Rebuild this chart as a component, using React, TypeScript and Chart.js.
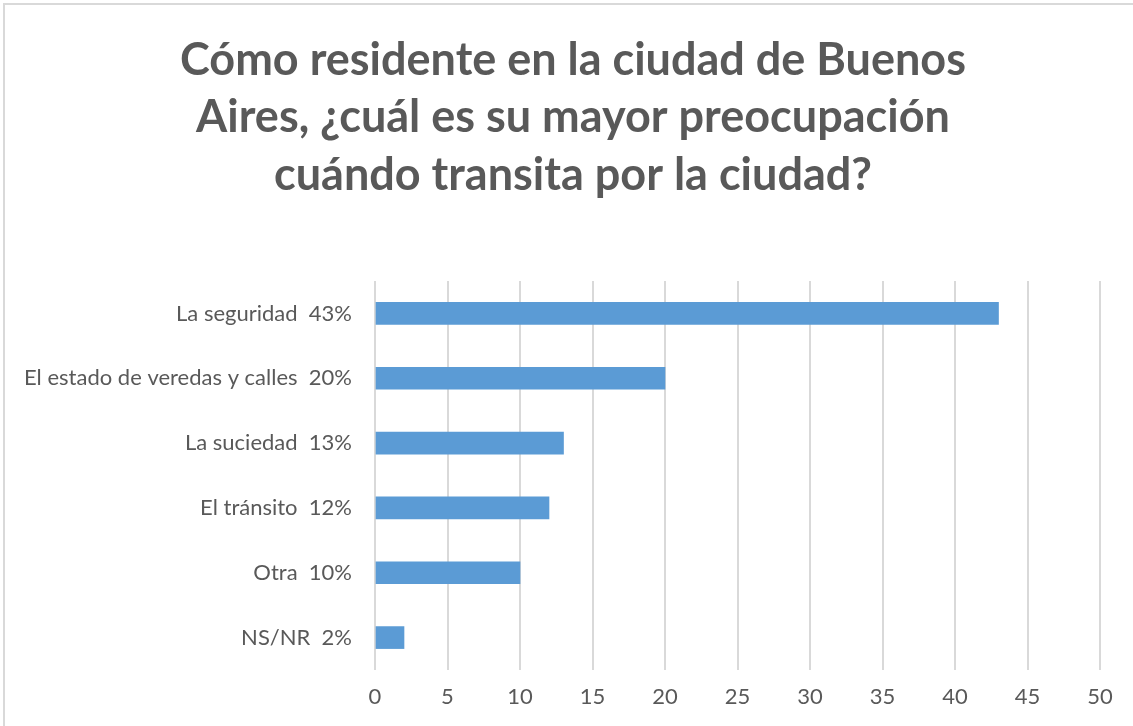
import React, { useEffect, useRef } from "react";
import { Chart, registerables } from "chart.js";

Chart.register(...registerables);

const categories = [
  "La seguridad  43%",
  "El estado de veredas y calles  20%",
  "La suciedad  13%",
  "El tránsito  12%",
  "Otra  10%",
  "NS/NR  2%",
];
const values = [43, 20, 13, 12, 10, 2];
const titleLines = [
  "Cómo residente en la ciudad de Buenos",
  "Aires, ¿cuál es su mayor preocupación",
  "cuándo transita por la ciudad?",
];
const xMin = 0;
const xMax = 50;
const xStep = 5;

const FONT = "Lato, 'Open Sans', sans-serif";
const GRAY = "#595959";

const titlePlugin = {
  id: "centeredTitle",
  afterDraw(chart: any) {
    const ctx = chart.ctx;
    ctx.save();
    ctx.fillStyle = GRAY;
    ctx.font = `bold 45px ${FONT}`;
    ctx.textAlign = "center";
    ctx.textBaseline = "middle";
    const cx = 573;
    const lh = 57.2;
    titleLines.forEach((line, i) => {
      ctx.fillText(line, cx, 32 + lh / 2 + i * lh);
    });
    ctx.restore();
  },
};

export default function App() {
  const ref = useRef<HTMLCanvasElement | null>(null);
  useEffect(() => {
    if (!ref.current) return;
    const chart = new Chart(ref.current, {
      type: "bar",
      data: {
        labels: categories,
        datasets: [
          {
            data: values,
            backgroundColor: "#5B9BD5",
            borderWidth: 0,
            barThickness: 22,
          },
        ],
      },
      plugins: [titlePlugin],
      options: {
        indexAxis: "y",
        animation: false,
        responsive: false,
        maintainAspectRatio: false,
        layout: { padding: { left: 0, right: 44, top: 281, bottom: 0 } },
        plugins: {
          legend: { display: false },
          tooltip: { enabled: false },
          title: { display: false },
        },
        scales: {
          x: {
            min: xMin,
            max: xMax,
            ticks: {
              stepSize: xStep,
              color: GRAY,
              font: { family: FONT, size: 22 },
              padding: 14,
            },
            grid: { color: "#D9D9D9", lineWidth: 2, drawTicks: false },
            border: { display: false },
            afterFit: (s: any) => {
              s.height = 56;
            },
          },
          y: {
            ticks: {
              color: GRAY,
              font: { family: FONT, size: 22 },
              padding: 23,
            },
            grid: { display: false, drawTicks: false },
            border: { display: false },
            afterFit: (s: any) => {
              s.width = 375;
            },
          },
        },
      },
    });
    return () => chart.destroy();
  }, []);
  return (
    <div
      style={{
        position: "fixed",
        left: 0,
        top: 0,
        width: 1133,
        height: 726,
        overflow: "hidden",
        background: "#fff",
      }}
    >
      <div
        style={{
          position: "absolute",
          left: 3,
          top: 3,
          width: 1300,
          height: 900,
          border: "2px solid #D9D9D9",
        }}
      />
      <canvas
        ref={ref}
        width={1144}
        height={726}
        style={{ position: "absolute", left: 0, top: 0, width: 1144, height: 726 }}
      />
    </div>
  );
}
